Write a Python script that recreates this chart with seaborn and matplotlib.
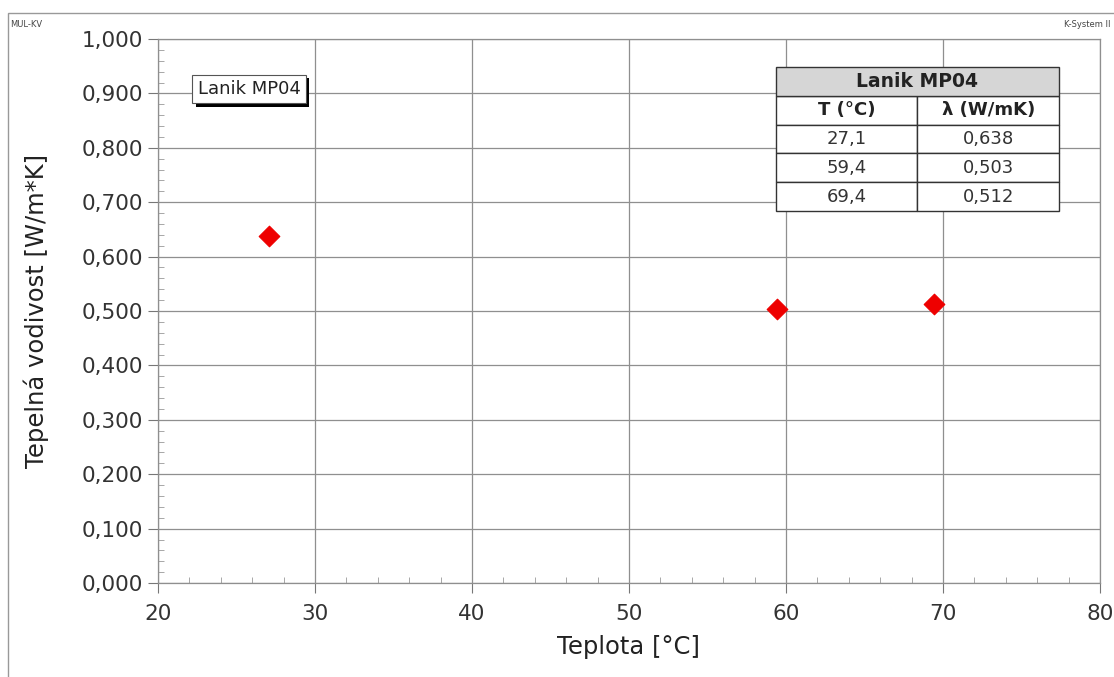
import matplotlib
matplotlib.use("Agg")
import matplotlib.pyplot as plt
import matplotlib.patheffects as pe
from matplotlib.patches import Rectangle
from matplotlib.ticker import MultipleLocator, FuncFormatter
import seaborn as sns
import pandas as pd

# measured data
teplota = [27.1, 59.4, 69.4]
vodivost = [0.638, 0.503, 0.512]
sample = "Lanik MP04"
col_labels = ["T (°C)", "λ (W/mK)"]

df = pd.DataFrame({"Teplota": teplota, "Vodivost": vodivost})

sns.set_style("white")
plt.rcParams["font.family"] = ["DejaVu Sans"]

fig = plt.figure(figsize=(11.14, 6.77), dpi=100)
ax = fig.add_axes([0.1418, 0.1388, 0.8456, 0.8036])

sns.scatterplot(data=df, x="Teplota", y="Vodivost", marker="D", color="#ee0000",
                s=110, edgecolor="#ee0000", ax=ax, zorder=5)

ax.set_xlim(20, 80)
ax.set_ylim(0, 1.0)
ax.xaxis.set_major_locator(MultipleLocator(10))
ax.xaxis.set_minor_locator(MultipleLocator(2))
ax.yaxis.set_major_locator(MultipleLocator(0.1))
ax.yaxis.set_minor_locator(MultipleLocator(0.02))
ax.yaxis.set_major_formatter(FuncFormatter(lambda v, p: f"{v:.3f}".replace(".", ",")))
ax.grid(True, which="major", color="#8f8f8f", linewidth=0.9)
ax.tick_params(which="major", length=7, color="#777777", labelsize=15.5,
               labelcolor="#333333", direction="out")
ax.tick_params(axis="x", which="major", pad=8)
ax.tick_params(which="minor", length=4, color="#999999", direction="in")
ax.tick_params(axis="y", which="both", left=True)
ax.tick_params(axis="x", which="both", bottom=True)
for s in ax.spines.values():
    s.set_color("#8f8f8f")
    s.set_linewidth(0.9)

ax.set_xlabel("Teplota [°C]", fontsize=17.5, color="#222222", labelpad=8)
ax.set_ylabel("Tepelná vodivost [W/m*K]", fontsize=17.5, color="#222222", labelpad=24)

# sample label with shadow
t = ax.text(0.042, 0.908, sample, transform=ax.transAxes, fontsize=13,
            color="#222222", va="center", ha="left", zorder=6,
            bbox=dict(boxstyle="square,pad=0.3", facecolor="white",
                      edgecolor="#555555", linewidth=0.8))
t.get_bbox_patch().set_path_effects([
    pe.SimplePatchShadow(offset=(2.5, -2.5), shadow_rgbFace="black", alpha=1.0),
    pe.Normal()])

# values table (header band drawn separately)
cells = [[f"{a:.1f}".replace(".", ","), f"{b:.3f}".replace(".", ",")]
         for a, b in zip(teplota, vodivost)]
x0 = (776 - 158) / 942
x1 = (1059 - 158) / 942
y_top = (583 - 67) / 544
y_bot = (583 - 211) / 544
row_h = (y_top - y_bot) / 5
tbl = ax.table(cellText=[col_labels] + cells, cellLoc="center",
               bbox=[x0, y_bot, x1 - x0, 4 * row_h], zorder=7)
tbl.auto_set_font_size(False)
for (r, c), cell in tbl.get_celld().items():
    cell.set_edgecolor("#333333")
    cell.set_linewidth(1.0)
    cell.set_facecolor("white")
    cell.get_text().set_fontsize(13)
    cell.get_text().set_color("#333333")
    if r == 0:
        cell.get_text().set_fontweight("bold")
        cell.get_text().set_color("#222222")
ax.add_patch(Rectangle((x0, y_top - row_h), x1 - x0, row_h, transform=ax.transAxes,
                       facecolor="#d6d6d6", edgecolor="#333333", linewidth=1.0,
                       zorder=8, clip_on=False))
ax.text((x0 + x1) / 2, y_top - row_h / 2, sample, transform=ax.transAxes,
        ha="center", va="center", fontsize=13.5, fontweight="bold", color="#222222",
        zorder=9)

# outer frame and corner texts
fig.add_artist(Rectangle((8 / 1114, -0.01), 1.2, (677 - 13) / 677 + 0.01,
                         transform=fig.transFigure, fill=False,
                         edgecolor="#999999", linewidth=1.0))
fig.text(10 / 1114, 1 - 27 / 677, "MUL-KV", fontsize=6, color="#444444")
fig.text(1 - 4 / 1114, 1 - 27 / 677, "K-System II", fontsize=6, color="#444444", ha="right")

fig.savefig("out.png", dpi=100)
